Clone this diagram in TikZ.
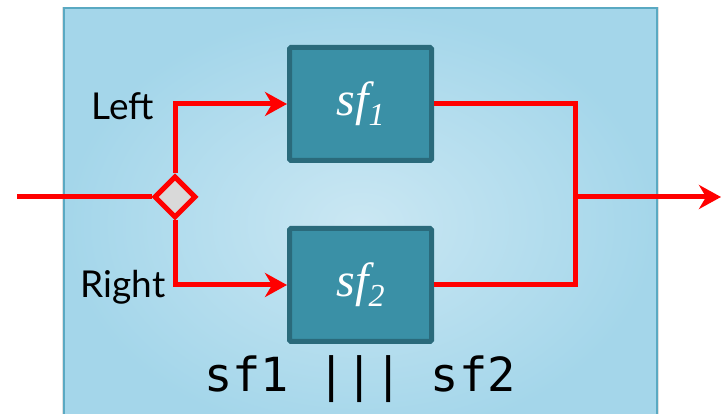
\documentclass[tikz,border=0pt]{standalone}
\usepackage{fontspec}
\setmainfont{Lato}
\setmonofont{DejaVu Sans Mono}
\newfontfamily\boxfont{Liberation Serif}
\usetikzlibrary{arrows.meta,shapes.geometric}
\definecolor{panelin}{HTML}{CAE7F3}
\definecolor{panelout}{HTML}{A4D6EA}
\definecolor{panelrim}{HTML}{5AA9C2}
\definecolor{sfbody}{HTML}{3A90A6}
\definecolor{sfrim}{HTML}{2A6A7B}
\definecolor{wire}{HTML}{FF0000}
\tikzset{
  sfbox/.style={draw=sfrim, fill=sfbody, line width=5pt, rounded corners=1.5pt,
    minimum width=142pt, minimum height=113pt, inner sep=0pt, text=white,
    font=\boxfont\itshape\fontsize{48}{48}\selectfont},
  wireline/.style={draw=wire, line width=5pt},
  wirearrow/.style={wireline, -{Stealth[length=22pt,width=24pt,inset=7pt]}},
  portname/.style={anchor=base, font=\fontsize{37}{37}\selectfont},
}
\newcommand{\sub}[1]{\raisebox{-10pt}{\fontsize{32}{32}\selectfont #1}}
\begin{document}
\begin{tikzpicture}[x=1pt, y=-1pt]
\useasboundingbox (0,0) rectangle (724,414);
\clip (0,0) rectangle (724,414);
% panel
\fill[black, opacity=0.12] (62,7) rectangle (659,440);
\shade[inner color=panelin, outer color=panelout, draw=panelrim, line width=1.5pt]
  (64,8) rectangle (657,440);
% the two sub-functions
\node[sfbox] (sfone) at (360.5,104) {sf\sub{1}};
\node[sfbox] (sftwo) at (360.5,285) {sf\sub{2}};
\node[diamond, draw=wire, fill=gray!30, line width=5pt, minimum width=42pt,
  minimum height=42pt, inner sep=0pt] (split) at (175,197) {};
\coordinate (in) at (17,197);
\coordinate (join) at (575,197);
\coordinate (out) at (721,197);
\node[portname] (left) at (123,120) {Left};
\node[portname] (right) at (123,298) {Right};
% wires
\draw[wireline] (in) -- (split.west);
\draw[wirearrow] (split.north) |- (sfone.west);
\draw[wirearrow] (split.south) |- (sftwo.west);
\draw[wireline] (sfone.east) -| (join) |- (sftwo.east);
\draw[wirearrow] (join) -- (out);
\node[anchor=base, font=\ttfamily\fontsize{47}{47}\selectfont] (expr) at (360,392) {sf1 ||| sf2};
\end{tikzpicture}
\end{document}
